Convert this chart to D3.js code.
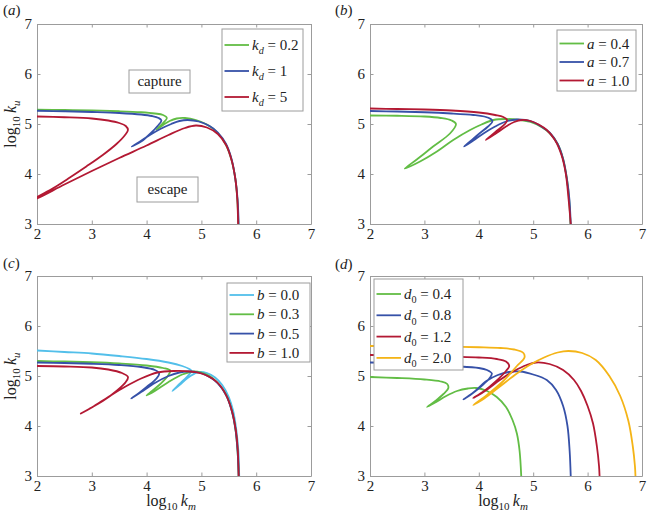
<!DOCTYPE html>
<html>
<head>
<meta charset="utf-8">
<script src="https://cdn.jsdelivr.net/npm/d3@7/dist/d3.min.js"></script>
<style>
  html, body { margin: 0; padding: 0; background: #fff; }
  svg { display: block; }
  svg text { font-family: "Liberation Serif", "Times New Roman", Times, "DejaVu Serif", serif !important; fill: #222; }
</style>
</head>
<body>
<svg id="chart" width="647" height="518"></svg>
<script>
// ---------- data ----------
const xTicks = [2, 3, 4, 5, 6, 7];
const yTicks = [3, 4, 5, 6, 7];
const xDomain = [2, 7];
const yDomain = [3, 7];

// panel (a): k_d
const aKd02 = [[2,5.285],[2.5,5.28],[3,5.27],[3.5,5.255],[3.9,5.235],[4.15,5.21],[4.3,5.18],[4.37,5.12],[4.3,5.02],[4.18,4.89],[4.3,4.98],[4.42,5.06],[4.55,5.11],[4.7,5.12],[4.9,5.08],[5.1,4.99],[5.3,4.82],[5.45,4.58],[5.55,4.28],[5.62,3.9],[5.655,3.5],[5.675,3.0]];
const aKd1 = [[2,5.265],[2.5,5.255],[3,5.24],[3.5,5.22],[3.9,5.19],[4.1,5.16],[4.22,5.12],[4.27,5.07],[4.2,4.96],[4.08,4.82],[3.9,4.65],[3.73,4.55],[3.88,4.65],[4.06,4.78],[4.25,4.9],[4.45,5.0],[4.6,5.06],[4.75,5.08],[4.95,5.05],[5.15,4.96],[5.3,4.83],[5.45,4.6],[5.55,4.3],[5.62,3.9],[5.66,3.5],[5.68,3.0]];
const aKd5 = [[2,5.15],[2.5,5.135],[3,5.11],[3.3,5.07],[3.5,5.02],[3.62,4.96],[3.66,4.88],[3.6,4.77],[3.45,4.6],[3.2,4.38],[2.9,4.15],[2.6,3.93],[2.3,3.72],[2.0,3.54],[1.9,3.47],[2.0,3.51],[2.5,3.79],[3,4.06],[3.5,4.32],[4,4.57],[4.4,4.78],[4.7,4.92],[4.9,4.97],[5.1,4.93],[5.3,4.8],[5.45,4.58],[5.55,4.28],[5.62,3.9],[5.655,3.5],[5.67,3.0]];

// panel (b): a
const bA04 = [[2,5.17],[2.5,5.165],[3,5.15],[3.3,5.12],[3.5,5.07],[3.58,5.0],[3.47,4.81],[3.16,4.55],[2.86,4.29],[2.64,4.11],[2.92,4.25],[3.23,4.45],[3.53,4.68],[3.84,4.88],[4.05,4.99],[4.27,5.08],[4.5,5.1],[4.75,5.08],[4.95,5.04],[5.15,4.94],[5.3,4.82],[5.45,4.6],[5.55,4.3],[5.62,3.9],[5.66,3.5],[5.685,3.0]];
const bA07 = [[2,5.26],[2.5,5.25],[3,5.235],[3.5,5.21],[3.9,5.18],[4.1,5.15],[4.22,5.1],[4.25,5.05],[4.17,4.95],[4.0,4.8],[3.85,4.66],[3.73,4.55],[3.9,4.67],[4.1,4.82],[4.3,4.95],[4.5,5.05],[4.7,5.09],[4.85,5.08],[5.0,5.04],[5.15,4.95],[5.3,4.83],[5.45,4.6],[5.55,4.3],[5.62,3.9],[5.665,3.5],[5.69,3.0]];
const bA10 = [[2,5.31],[2.5,5.3],[3,5.29],[3.5,5.27],[4,5.23],[4.3,5.18],[4.45,5.14],[4.52,5.08],[4.48,5.0],[4.35,4.88],[4.22,4.76],[4.13,4.68],[4.3,4.8],[4.5,4.95],[4.65,5.04],[4.8,5.08],[4.95,5.06],[5.1,4.99],[5.25,4.88],[5.4,4.68],[5.52,4.38],[5.6,4.0],[5.65,3.5],[5.69,3.0]];

// panel (c): b
const cB00 = [[2,5.51],[2.5,5.48],[3,5.45],[3.5,5.4],[4,5.34],[4.4,5.27],[4.65,5.2],[4.78,5.14],[4.82,5.1],[4.75,5.0],[4.6,4.84],[4.47,4.7],[4.6,4.82],[4.8,5.0],[4.95,5.08],[5.1,5.06],[5.25,4.97],[5.38,4.82],[5.5,4.58],[5.58,4.3],[5.64,3.9],[5.675,3.5],[5.69,3.0]];
const cB03 = [[2,5.3],[2.5,5.29],[3,5.275],[3.5,5.25],[4,5.21],[4.3,5.16],[4.43,5.11],[4.4,5.02],[4.25,4.84],[4.1,4.7],[4.0,4.61],[4.15,4.7],[4.4,4.88],[4.65,5.03],[4.85,5.09],[5.0,5.07],[5.15,5.0],[5.3,4.86],[5.45,4.63],[5.55,4.33],[5.62,3.95],[5.66,3.5],[5.68,3.0]];
const cB05 = [[2,5.27],[2.5,5.26],[3,5.245],[3.5,5.22],[3.9,5.18],[4.15,5.12],[4.23,5.05],[4.18,4.95],[4.0,4.78],[3.85,4.65],[3.72,4.55],[3.9,4.68],[4.15,4.86],[4.4,5.0],[4.6,5.07],[4.75,5.09],[4.95,5.07],[5.15,4.98],[5.3,4.85],[5.45,4.62],[5.55,4.32],[5.62,3.95],[5.66,3.5],[5.68,3.0]];
const cB10 = [[2,5.2],[2.5,5.19],[3,5.17],[3.3,5.13],[3.55,5.06],[3.66,4.98],[3.62,4.88],[3.45,4.7],[3.2,4.5],[2.95,4.34],[2.8,4.25],[3.0,4.37],[3.3,4.58],[3.6,4.78],[3.9,4.95],[4.2,5.07],[4.5,5.1],[4.8,5.09],[5.0,5.05],[5.2,4.95],[5.35,4.8],[5.48,4.55],[5.57,4.25],[5.63,3.9],[5.665,3.5],[5.68,3.0]];

// panel (d): d0
const dD04 = [[2,4.98],[2.5,4.96],[3,4.93],[3.3,4.89],[3.42,4.84],[3.44,4.76],[3.35,4.64],[3.2,4.5],[3.05,4.38],[3.2,4.47],[3.4,4.6],[3.6,4.7],[3.8,4.75],[3.95,4.76],[4.15,4.7],[4.33,4.58],[4.5,4.38],[4.62,4.12],[4.7,3.85],[4.75,3.5],[4.78,3.0]];
const dD08 = [[2,5.27],[2.5,5.26],[3,5.235],[3.5,5.2],[4.0,5.16],[4.15,5.12],[4.24,5.05],[4.2,4.96],[4.05,4.8],[3.88,4.65],[3.72,4.53],[3.9,4.67],[4.14,4.9],[4.35,5.02],[4.55,5.08],[4.76,5.09],[5.0,5.03],[5.25,4.92],[5.42,4.72],[5.55,4.4],[5.63,4.0],[5.67,3.5],[5.69,3.0]];
const dD12 = [[2,5.42],[2.5,5.415],[3,5.41],[3.5,5.39],[4,5.37],[4.33,5.34],[4.5,5.29],[4.56,5.2],[4.5,5.1],[4.3,4.88],[4.1,4.7],[3.9,4.56],[4.1,4.69],[4.4,4.93],[4.65,5.1],[4.88,5.22],[5.05,5.27],[5.3,5.24],[5.55,5.12],[5.75,4.92],[5.88,4.7],[6.0,4.4],[6.1,4.05],[6.17,3.6],[6.21,3.2],[6.22,3.0]];
const dD20 = [[2,5.6],[2.5,5.6],[3,5.595],[3.5,5.585],[4,5.575],[4.4,5.56],[4.65,5.53],[4.82,5.46],[4.84,5.37],[4.7,5.2],[4.45,4.9],[4.15,4.62],[3.9,4.42],[4.1,4.55],[4.4,4.8],[4.7,5.05],[4.95,5.23],[5.2,5.37],[5.45,5.47],[5.65,5.5],[5.9,5.46],[6.15,5.32],[6.4,5.0],[6.6,4.6],[6.75,4.1],[6.83,3.6],[6.87,3.2],[6.88,3.0]];

const colGreen = "#62bd45", colBlue = "#3651a8", colRed = "#b31933", colCyan = "#52bfea", colOrange = "#f4b417";

// legend labels: [variable, subscript, value]
const legA = [["k","d","0.2"],["k","d","1"],["k","d","5"]];
const legB = [["a","","0.4"],["a","","0.7"],["a","","1.0"]];
const legC = [["b","","0.0"],["b","","0.3"],["b","","0.5"],["b","","1.0"]];
const legD = [["d","0","0.4"],["d","0","0.8"],["d","0","1.2"],["d","0","2.0"]];

// ---------- layout ----------
const panels = [
  { id:"a", x0:37, x1:311, y0:24, y1:224, series:[aKd02,aKd1,aKd5], colors:[colGreen,colBlue,colRed], leg:legA,
    lbox:[222,29,303,111], lrow0:45, lstep:26, ylab:true, xlab:false, tag:[3,15] },
  { id:"b", x0:370, x1:642, y0:24, y1:224, series:[bA04,bA07,bA10], colors:[colGreen,colBlue,colRed], leg:legB,
    lbox:[557,30,636,91], lrow0:43.5, lstep:18.5, ylab:false, xlab:false, tag:[335,15] },
  { id:"c", x0:37, x1:311, y0:276, y1:476, series:[cB00,cB03,cB05,cB10], colors:[colCyan,colGreen,colBlue,colRed], leg:legC,
    lbox:[227,283,310,362], lrow0:295, lstep:19.3, ylab:true, xlab:true, tag:[3,268] },
  { id:"d", x0:370, x1:642, y0:276, y1:476, series:[dD04,dD08,dD12,dD20], colors:[colGreen,colBlue,colRed,colOrange], leg:legD,
    lbox:[374,279,463,370], lrow0:294, lstep:21.3, ylab:false, xlab:true, tag:[335,269] }
];

const svg = d3.select("#chart");
const axisColor = "#9c9c9c";
const serif = '"Liberation Serif", "Times New Roman", Times, serif';

function richLabel(sel, v, sub, val, size) {
  sel.append("tspan").attr("font-style","italic").text(v);
  if (sub) sel.append("tspan").attr("font-style", /\d/.test(sub) ? "normal" : "italic")
    .attr("font-size", size*0.68).attr("dy", size*0.28).text(sub);
  sel.append("tspan").attr("dy", sub ? -size*0.28 : 0).text(" = " + val);
}

panels.forEach((p) => {
  const x = d3.scaleLinear().domain(xDomain).range([p.x0, p.x1]);
  const y = d3.scaleLinear().domain(yDomain).range([p.y1, p.y0]);
  const g = svg.append("g");

  const clipId = "clip-" + p.id;
  svg.append("clipPath").attr("id", clipId).append("rect")
    .attr("x", p.x0).attr("y", p.y0).attr("width", p.x1 - p.x0).attr("height", p.y1 - p.y0);

  const tk = 3.5;
  const styleAxis = (a) => {
    a.attr("font-family", serif).attr("font-size", 15);
    a.select(".domain").attr("stroke", axisColor);
    a.selectAll(".tick line").attr("stroke", axisColor);
    a.selectAll(".tick text").attr("fill", "#2a2a2a").attr("font-size", 15).attr("font-family", serif);
  };
  const bottom = g.append("g").attr("transform", `translate(0,${p.y1})`)
    .call(d3.axisBottom(x).tickValues(xTicks).tickFormat(d3.format("d")).tickSizeInner(-tk).tickSizeOuter(0).tickPadding(4));
  styleAxis(bottom);
  const top = g.append("g").attr("transform", `translate(0,${p.y0})`)
    .call(d3.axisTop(x).tickValues(xTicks).tickFormat("").tickSizeInner(-tk).tickSizeOuter(0));
  styleAxis(top);
  const left = g.append("g").attr("transform", `translate(${p.x0},0)`)
    .call(d3.axisLeft(y).tickValues(yTicks).tickFormat(d3.format("d")).tickSizeInner(-tk).tickSizeOuter(0).tickPadding(5));
  styleAxis(left);
  const right = g.append("g").attr("transform", `translate(${p.x1},0)`)
    .call(d3.axisRight(y).tickValues(yTicks).tickFormat("").tickSizeInner(-tk).tickSizeOuter(0));
  styleAxis(right);

  const line = d3.line().x(d => x(d[0])).y(d => y(d[1])).curve(d3.curveCatmullRom.alpha(0.5));
  const cg = g.append("g").attr("clip-path", `url(#${clipId})`);
  p.series.forEach((s, i) => {
    cg.append("path").datum(s).attr("d", line)
      .attr("fill", "none").attr("stroke", p.colors[i]).attr("stroke-width", 1.8)
      .attr("stroke-linejoin", "round").attr("stroke-linecap", "round");
  });

  const [lx0, ly0, lx1, ly1] = p.lbox;
  const lg = g.append("g");
  lg.append("rect").attr("x", lx0).attr("y", ly0).attr("width", lx1 - lx0).attr("height", ly1 - ly0)
    .attr("fill", "#fff").attr("stroke", axisColor).attr("stroke-width", 1);
  p.leg.forEach((L, i) => {
    const yy = p.lrow0 + i * p.lstep;
    lg.append("line").attr("x1", lx0 + 2.5).attr("x2", lx0 + 27).attr("y1", yy).attr("y2", yy)
      .attr("stroke", p.colors[i]).attr("stroke-width", 1.8);
    const t = lg.append("text").attr("x", lx0 + 30).attr("y", yy + 5).attr("font-size", 15).attr("font-family", serif);
    richLabel(t, L[0], L[1], L[2], 15);
  });

  const tag = svg.append("text").attr("x", p.tag[0]).attr("y", p.tag[1]).attr("font-size", 15).attr("font-family", serif);
  tag.append("tspan").text("(");
  tag.append("tspan").attr("font-style", "italic").text(p.id);
  tag.append("tspan").text(")");

  if (p.ylab) {
    const cy = (p.y0 + p.y1) / 2;
    const t = svg.append("text").attr("transform", `translate(16,${cy}) rotate(-90)`)
      .attr("text-anchor", "middle").attr("font-size", 16).attr("font-family", serif);
    t.append("tspan").text("log");
    t.append("tspan").attr("font-size", 11).attr("dy", 4).text("10");
    t.append("tspan").attr("dy", -4).text("\u2009");
    t.append("tspan").attr("font-style", "italic").text("k");
    t.append("tspan").attr("font-style", "italic").attr("font-size", 11).attr("dy", 4).text("u");
  }
  if (p.xlab) {
    const cx = (p.x0 + p.x1) / 2 - 3;
    const t = svg.append("text").attr("x", cx).attr("y", 506)
      .attr("text-anchor", "middle").attr("font-size", 16).attr("font-family", serif);
    t.append("tspan").text("log");
    t.append("tspan").attr("font-size", 11).attr("dy", 4).text("10");
    t.append("tspan").attr("dy", -4).text("\u2009");
    t.append("tspan").attr("font-style", "italic").text("k");
    t.append("tspan").attr("font-style", "italic").attr("font-size", 11).attr("dy", 4).text("m");
  }
});

const regionBoxes = [
  { label: "capture", box: [129, 70, 190, 93] },
  { label: "escape", box: [137, 177, 198, 202] }
];
regionBoxes.forEach(r => {
  const [bx0, by0, bx1, by1] = r.box;
  svg.append("rect").attr("x", bx0).attr("y", by0).attr("width", bx1 - bx0).attr("height", by1 - by0)
    .attr("fill", "#fff").attr("stroke", axisColor);
  svg.append("text").attr("x", (bx0 + bx1) / 2).attr("y", (by0 + by1) / 2 + 4.5)
    .attr("text-anchor", "middle").attr("font-size", 15).attr("font-family", serif).text(r.label);
});
</script>
</body>
</html>
